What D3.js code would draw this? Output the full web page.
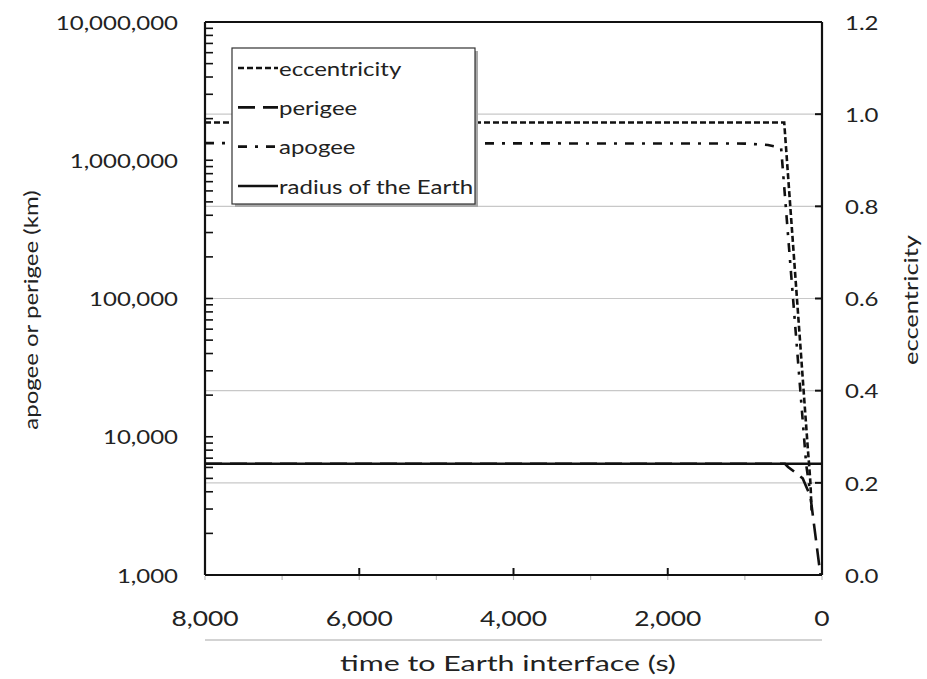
<!DOCTYPE html>
<html>
<head>
<script src="https://d3js.org/d3.v7.min.js"></script>
<style>
  body { margin: 0; background: #fff; }
  svg { display: block; }
  text { font-family: Lato, "Open Sans", sans-serif; fill: #222; }
</style>
</head>
<body>
<svg width="927" height="679"></svg>
<script>
// ---- data ----
const eccTime   = [8000, 490, 182, 165, 150, 135];
const eccValue  = [0.982, 0.982, 0.27, 0.235, 0.20, 0.14];

const apoTime   = [8000, 1000, 700, 530, 205, 160];
const apoValue  = [1330000, 1320000, 1290000, 1230000, 6300, 4200];

const periTime  = [8000, 480, 440, 250, 150, 20];
const periValue = [6378, 6378, 6050, 5000, 3700, 1000];

const earthTime  = [8000, 0];
const earthValue = [6378, 6378];

const xTicks    = [8000, 6000, 4000, 2000, 0];
const xMinor    = [7000, 5000, 3000, 1000];
const yLeftTicks  = [1000, 10000, 100000, 1000000, 10000000];
const yRightTicks = [0, 0.2, 0.4, 0.6, 0.8, 1.0, 1.2];

const legendItems = ['eccentricity', 'perigee', 'apogee', 'radius of the Earth'];

// ---- layout ----
const svg = d3.select('svg');
const plot = { left: 205, right: 822, top: 22, bottom: 575 };
const sx = 1.2; // the picture is stretched sideways

const x = d3.scaleLinear().domain([8000, 0]).range([plot.left, plot.right]);
const yL = d3.scaleLog().domain([1000, 10000000]).range([plot.bottom, plot.top]);
const yR = d3.scaleLinear().domain([0, 1.2]).range([plot.bottom, plot.top]);

const styles = {
  eccentricity: { dash: '6,3', width: 2.6 },
  perigee: { dash: '17,8', width: 2.6 },
  apogee: { dash: '9,8,3,8', width: 2.6 },
  earth: { dash: null, width: 2.6 }
};

// text helper; len forces a width when given
function label(g, txt, px, py, size, anchor, rot, len) {
  const t = g.append('text')
    .attr('transform', `translate(${px},${py})` + (rot ? ` rotate(${rot})` : '') + (len ? '' : ` scale(${sx},1)`))
    .attr('text-anchor', anchor)
    .attr('dominant-baseline', 'central')
    .style('font-size', size + 'px')
    .text(txt);
  if (len) t.attr('textLength', len).attr('lengthAdjust', 'spacingAndGlyphs');
  return t;
}

// gridlines from the secondary axis
svg.append('g').selectAll('line')
  .data(yRightTicks.filter(v => v > 0 && v < 1.2))
  .join('line')
  .attr('x1', plot.left).attr('x2', plot.right)
  .attr('y1', d => yR(d)).attr('y2', d => yR(d))
  .attr('stroke', '#c8c8c8').attr('stroke-width', 1.2);

svg.append('clipPath').attr('id', 'clip')
  .append('rect').attr('x', plot.left).attr('y', plot.top)
  .attr('width', plot.right - plot.left).attr('height', plot.bottom - plot.top);

const lines = svg.append('g').attr('clip-path', 'url(#clip)');

function drawSeries(times, values, yScale, st) {
  const pts = times.map((t, i) => [x(t), yScale(values[i])]);
  lines.append('path')
    .attr('d', d3.line()(pts))
    .attr('fill', 'none')
    .attr('stroke', '#111')
    .attr('stroke-width', st.width)
    .attr('stroke-dasharray', st.dash);
}

drawSeries(eccTime, eccValue, yR, styles.eccentricity);
drawSeries(apoTime, apoValue, yL, styles.apogee);
drawSeries(periTime, periValue, yL, styles.perigee);
drawSeries(earthTime, earthValue, yL, styles.earth);

// ---- axes ----
const ax = svg.append('g');
ax.append('line').attr('x1', plot.left).attr('x2', plot.right)
  .attr('y1', plot.top).attr('y2', plot.top).attr('stroke', '#111').attr('stroke-width', 2);
ax.append('line').attr('x1', plot.left).attr('x2', plot.left)
  .attr('y1', plot.top).attr('y2', plot.bottom).attr('stroke', '#111').attr('stroke-width', 2.2);
ax.append('line').attr('x1', plot.right).attr('x2', plot.right)
  .attr('y1', plot.top).attr('y2', plot.bottom).attr('stroke', '#111').attr('stroke-width', 2.2);
ax.append('line').attr('x1', plot.left).attr('x2', plot.right)
  .attr('y1', plot.bottom).attr('y2', plot.bottom).attr('stroke', '#111').attr('stroke-width', 2.2);

// left log axis: major + minor ticks inside
const leftMinor = [];
for (let dec = 1000; dec < 10000000; dec *= 10) {
  for (let k = 2; k <= 9; k++) leftMinor.push(dec * k);
}
ax.append('g').selectAll('line').data(yLeftTicks.concat(leftMinor)).join('line')
  .attr('x1', plot.left).attr('x2', plot.left + 8)
  .attr('y1', d => yL(d)).attr('y2', d => yL(d))
  .attr('stroke', '#111').attr('stroke-width', 1.6);
const fmt = d3.format(',');
yLeftTicks.forEach(v => label(ax, fmt(v), 178, yL(v), 20, 'end'));

// right axis
ax.append('g').selectAll('line').data(yRightTicks).join('line')
  .attr('x1', plot.right - 7).attr('x2', plot.right)
  .attr('y1', d => yR(d)).attr('y2', d => yR(d))
  .attr('stroke', '#111').attr('stroke-width', 2);
yRightTicks.forEach(v => label(ax, v.toFixed(1), 845, yR(v), 20, 'start'));

// bottom axis
ax.append('g').selectAll('line').data(xTicks).join('line')
  .attr('x1', d => x(d)).attr('x2', d => x(d))
  .attr('y1', plot.bottom - 7).attr('y2', plot.bottom)
  .attr('stroke', '#111').attr('stroke-width', 2);
ax.append('g').selectAll('line').data(xMinor.concat(xTicks)).join('line')
  .attr('x1', d => x(d)).attr('x2', d => x(d))
  .attr('y1', plot.bottom + 1).attr('y2', plot.bottom + 5)
  .attr('stroke', '#bbb').attr('stroke-width', 1.2);
xTicks.forEach(v => label(ax, fmt(v), x(v), 617, 22, 'middle'));
ax.append('line').attr('x1', plot.left).attr('x2', plot.right)
  .attr('y1', 640).attr('y2', 640).attr('stroke', '#c4c4c4').attr('stroke-width', 1.5);

// axis titles
label(ax, 'time to Earth interface (s)', 508, 662, 22, 'middle', 0, 336);
label(ax, 'apogee or perigee (km)', 30, 310, 20, 'middle', -90);
label(ax, 'eccentricity', 910, 300, 20, 'middle', -90, 130);

// ---- legend ----
const lg = svg.append('g');
const box = { x: 232, y: 48, w: 243, h: 156 };
lg.append('rect').attr('x', box.x + 3).attr('y', box.y + 3)
  .attr('width', box.w).attr('height', box.h).attr('fill', '#a8a8a8');
lg.append('rect').attr('x', box.x).attr('y', box.y)
  .attr('width', box.w).attr('height', box.h)
  .attr('fill', '#fff').attr('stroke', '#333').attr('stroke-width', 1.2);
const legStyles = [styles.eccentricity, styles.perigee, styles.apogee, styles.earth];
const legY = d3.scalePoint().domain(legendItems).range([68, 186]);
legendItems.forEach((name, i) => {
  const st = legStyles[i];
  const yy = legY(name);
  lg.append('line').attr('x1', 238).attr('x2', 278).attr('y1', yy).attr('y2', yy)
    .attr('stroke', '#111').attr('stroke-width', st.width)
    .attr('stroke-dasharray', st.dash);
  label(lg, name, 279, yy, 20, 'start');
});
</script>
</body>
</html>
